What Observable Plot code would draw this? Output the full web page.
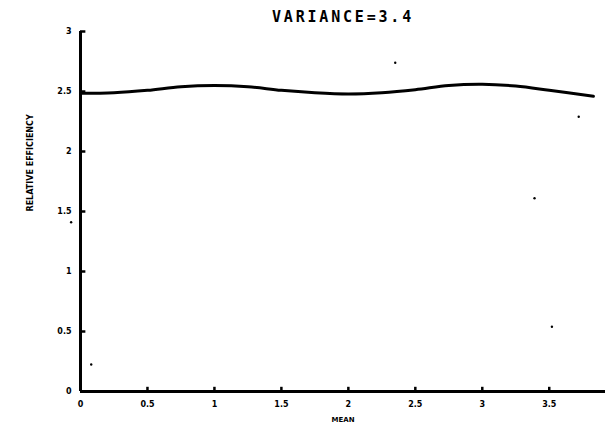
<!DOCTYPE html>
<html>
<head>
<meta charset="utf-8">
<script src="https://cdn.jsdelivr.net/npm/d3@7"></script>
<script src="https://cdn.jsdelivr.net/npm/@observablehq/plot@0.6"></script>
<style>
  html, body { margin: 0; padding: 0; background: #fff; }
  svg { font-family: "DejaVu Sans", sans-serif; font-weight: bold; }
  g[font-size="15"] text { letter-spacing: 2.8px; }
</style>
</head>
<body>
<div id="chart"></div>
<script>
const title = "VARIANCE=3.4";
const xLabel = "MEAN";
const yLabel = "RELATIVE EFFICIENCY";

const xTicks = [0, 0.5, 1, 1.5, 2, 2.5, 3, 3.5];
const xTickLabels = ["0", "0.5", "1", "1.5", "2", "2.5", "3", "3.5"];
const yTicks = [0, 0.5, 1, 1.5, 2, 2.5, 3];
const yTickLabels = ["0", "0.5", "1", "1.5", "2", "2.5", "3"];

const meanValues = [0, 0.25, 0.5, 0.75, 1.0, 1.25, 1.5, 1.75, 2.0, 2.25, 2.5, 2.75, 3.0, 3.25, 3.5, 3.83];
const efficiency = [2.485, 2.49, 2.51, 2.54, 2.55, 2.54, 2.51, 2.49, 2.48, 2.49, 2.515, 2.55, 2.56, 2.545, 2.51, 2.46];

const specksX = [2.35, 3.72, 3.39, 3.52, 0.08, -0.07];
const specksY = [2.74, 2.29, 1.61, 0.54, 0.225, 1.41];

const curve = meanValues.map((m, i) => ({x: m, y: efficiency[i]}));
const specks = specksX.map((x, i) => ({x, y: specksY[i]}));

const chart = Plot.plot({
  width: 609,
  height: 431,
  marginLeft: 80,
  marginRight: 4,
  marginTop: 31,
  marginBottom: 40,
  x: {domain: [0, 3.92]},
  y: {domain: [0, 3]},
  style: {fontFamily: "DejaVu Sans, sans-serif", fontWeight: "bold", color: "#000", background: "#fff"},
  marks: [
    Plot.axisX({ticks: xTicks, tickSize: 0, tickPadding: 10, fontSize: 8,
      tickFormat: (d) => xTickLabels[xTicks.indexOf(d)], label: null}),
    Plot.axisY({ticks: yTicks, tickSize: 0, tickPadding: 9, fontSize: 8,
      tickFormat: (d) => yTickLabels[yTicks.indexOf(d)], label: null}),
    Plot.ruleY([0], {stroke: "#000", strokeWidth: 3}),
    Plot.ruleX([0], {stroke: "#000", strokeWidth: 3}),
    Plot.ruleX(xTicks, {x: (d) => d, y1: 0, y2: 0.035, stroke: "#000", strokeWidth: 2.5}),
    Plot.ruleY(yTicks, {y: (d) => d, x1: 0, x2: 0.04, stroke: "#000", strokeWidth: 2.5}),
    Plot.line(curve, {x: "x", y: "y", curve: "catmull-rom", stroke: "#000", strokeWidth: 3}),
    Plot.dot(specks, {x: "x", y: "y", r: 1.2, fill: "#000", stroke: null, clip: false}),
    Plot.text([title], {frameAnchor: "top", dy: -20, dx: 0, fontSize: 15, fontWeight: "bold", fill: "#000",
      fontFamily: "DejaVu Sans Mono, monospace"}),
    Plot.text([xLabel], {frameAnchor: "bottom", dy: 30, fontSize: 7, fontWeight: "bold", fill: "#000"}),
    Plot.text([yLabel], {frameAnchor: "left", dx: -50, rotate: -90, fontSize: 8, fontWeight: "bold", fill: "#000"})
  ]
});
document.getElementById("chart").appendChild(chart);
</script>
</body>
</html>
